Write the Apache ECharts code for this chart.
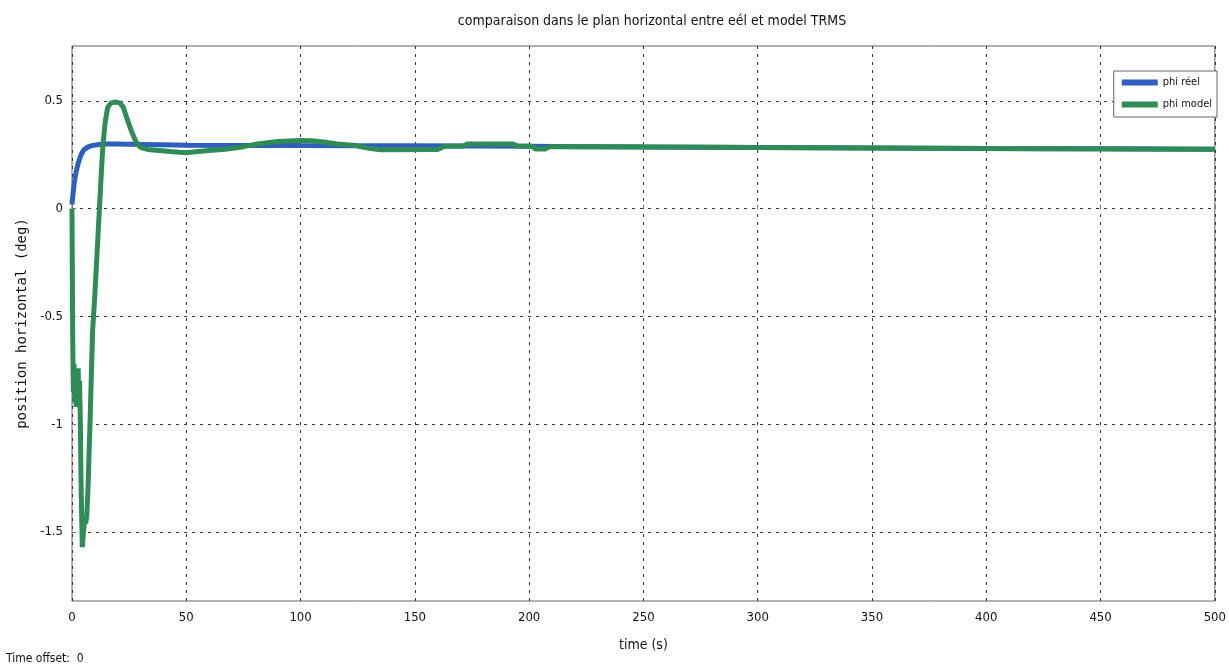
<!DOCTYPE html>
<html>
<head>
<meta charset="utf-8">
<script src="https://cdn.jsdelivr.net/npm/echarts@6/dist/echarts.min.js"></script>
<style>
  html, body { margin: 0; padding: 0; background: #ffffff; }
  #chart { width: 1229px; height: 668px; }
</style>
</head>
<body>
<div id="chart"></div>
<script>
// Horizontal-plane response: measured vs. model (phi, deg)
const timeReel = [0, 1, 2, 3, 4, 5, 6, 8, 10, 12, 15, 20, 30, 50, 100, 150, 200, 250, 300, 350, 400, 450, 500];
const phiReel  = [0.02, 0.12, 0.18, 0.22, 0.25, 0.27, 0.28, 0.29, 0.295, 0.298, 0.30, 0.30, 0.298, 0.295, 0.293, 0.292, 0.29, 0.286, 0.284, 0.282, 0.279, 0.278, 0.276];

const timeModel = [0, 0.3, 0.6, 0.9, 1.2, 1.5, 1.8, 2.1, 2.4, 2.7, 3.0, 3.3, 3.6, 4.0, 4.5, 5.0, 5.5, 6.0, 6.5, 7, 8, 9, 10, 11, 12, 13, 13.5, 14.5, 15.6, 17, 19, 21, 22.5, 24, 26, 28, 30, 33, 38, 43, 47, 50, 55, 60, 67, 75, 81, 90, 100, 105, 110, 116, 124, 130, 135, 160, 163, 171, 173, 193, 195, 201, 203, 207, 209, 240, 300, 400, 500];
const phiModel  = [0, -0.6, -0.85, -0.72, -0.9, -0.75, -0.92, -0.78, -0.88, -0.74, -0.9, -0.8, -0.95, -1.3, -1.57, -1.5, -1.45, -1.46, -1.42, -1.3, -0.95, -0.57, -0.4, -0.2, 0, 0.2, 0.29, 0.4, 0.47, 0.49, 0.495, 0.49, 0.47, 0.42, 0.36, 0.31, 0.285, 0.275, 0.27, 0.265, 0.262, 0.26, 0.265, 0.27, 0.276, 0.288, 0.3, 0.312, 0.317, 0.315, 0.31, 0.3, 0.293, 0.28, 0.274, 0.275, 0.29, 0.29, 0.3, 0.3, 0.29, 0.29, 0.277, 0.277, 0.288, 0.288, 0.284, 0.279, 0.276];

const yTicks = [-1.5, -1, -0.5, 0, 0.5];

const pairs = (xs, ys) => xs.map((x, i) => [x, ys[i]]);

const FONT = "'DejaVu Sans Condensed', 'Liberation Sans', sans-serif";
const BLUE = '#2e5fbe';
const GREEN = '#2f8c57';

const chart = echarts.init(document.getElementById('chart'), null, { renderer: 'canvas' });

const option = {
  backgroundColor: '#ffffff',
  animation: false,
  title: {
    text: 'comparaison dans le plan horizontal entre eél et model TRMS',
    left: 647,
    textAlign: 'center',
    top: 9,
    textStyle: { fontFamily: FONT, fontSize: 14, fontWeight: 'normal', color: '#111' }
  },
  legend: {
    orient: 'vertical',
    right: 12,
    top: 71,
    itemWidth: 36,
    itemHeight: 6,
    itemGap: 11,
    padding: [6, 5, 7, 8],
    backgroundColor: '#ffffff',
    borderColor: '#666',
    borderWidth: 1,
    borderRadius: 0,
    icon: 'rect',
    textStyle: { fontFamily: FONT, fontSize: 11, color: '#111' },
    data: ['phi réel', 'phi model']
  },
  grid: {
    left: 72, right: 12, top: 46, bottom: 67,
    show: true, borderColor: '#666', borderWidth: 1, backgroundColor: '#ffffff'
  },
  xAxis: {
    type: 'value',
    min: 0, max: 500, interval: 50,
    name: 'time (s)',
    nameLocation: 'middle',
    nameGap: 37,
    nameTextStyle: { fontFamily: FONT, fontSize: 14, color: '#111' },
    axisLine: { show: false },
    axisTick: { show: true, inside: true, length: 4, lineStyle: { color: '#777' } },
    axisLabel: { fontFamily: FONT, fontSize: 13, color: '#111', margin: 10 },
    splitLine: { show: true, lineStyle: { color: '#333', width: 1, type: [3, 5] } }
  },
  yAxis: {
    type: 'value',
    min: -1.82, max: 0.755,
    name: 'position horizontal (deg)',
    nameLocation: 'middle',
    nameGap: 35,
    nameRotate: 90,
    nameTextStyle: { fontFamily: "'DejaVu Sans Mono', monospace", fontSize: 14, color: '#111' },
    axisLine: { show: false },
    axisTick: { show: true, inside: true, length: 4, customValues: yTicks, lineStyle: { color: '#777' } },
    axisLabel: { fontFamily: FONT, fontSize: 13, color: '#111', margin: 9, customValues: yTicks },
    splitLine: { show: true, lineStyle: { color: '#333', width: 1, type: [3, 5] } }
  },
  graphic: [{
    type: 'text',
    left: 6, top: 653,
    style: { text: 'Time offset:  0', font: "12px 'DejaVu Sans Condensed', sans-serif", fill: '#111' }
  }],
  series: [
    {
      name: 'phi réel',
      type: 'line',
      data: pairs(timeReel, phiReel),
      showSymbol: false,
      smooth: 0.3,
      lineStyle: { color: BLUE, width: 5 },
      itemStyle: { color: BLUE },
      z: 2
    },
    {
      name: 'phi model',
      type: 'line',
      data: pairs(timeModel, phiModel),
      showSymbol: false,
      lineStyle: { color: GREEN, width: 5 },
      itemStyle: { color: GREEN },
      z: 3
    }
  ]
};

chart.setOption(option);
</script>
</body>
</html>
